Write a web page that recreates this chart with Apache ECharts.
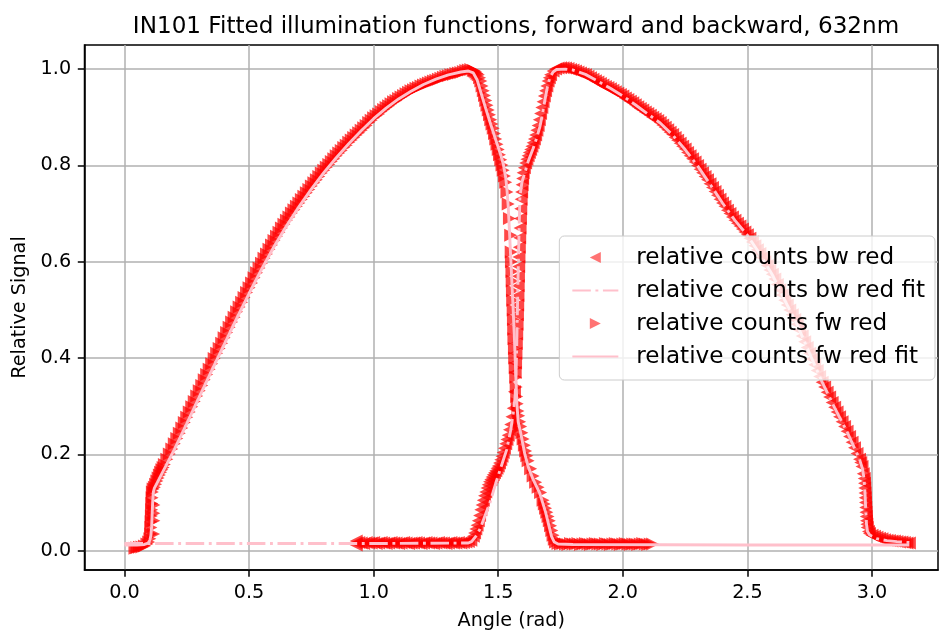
<!DOCTYPE html>
<html>
<head>
<meta charset="utf-8">
<script src="https://cdn.jsdelivr.net/npm/echarts@6/dist/echarts.min.js"></script>
<style>
  html, body { margin: 0; padding: 0; background: #fff; }
  #chart { width: 940px; height: 634px; }
</style>
</head>
<body>
<div id="chart"></div>
<script>
// Backward scan, red channel: [angle (rad), relative signal]
const bwRed = [
  [0.930,0.012],[0.930,0.020],[0.93,0.016],[0.94,0.017],[0.95,0.016],[0.96,0.015],[0.97,0.017],[0.98,0.016],[0.99,0.016],
  [1.00,0.017],[1.01,0.015],[1.02,0.016],[1.03,0.017],[1.04,0.016],[1.05,0.015],[1.06,0.016],[1.07,0.017],[1.08,0.016],[1.09,0.016],
  [1.10,0.015],[1.11,0.016],[1.12,0.017],[1.13,0.016],[1.14,0.015],[1.15,0.016],[1.16,0.016],[1.17,0.017],[1.18,0.016],[1.19,0.015],
  [1.20,0.016],[1.21,0.017],[1.22,0.016],[1.23,0.016],[1.24,0.015],[1.25,0.016],[1.26,0.017],[1.27,0.016],[1.28,0.016],[1.29,0.015],
  [1.30,0.016],[1.31,0.017],[1.32,0.016],[1.33,0.016],[1.34,0.017],[1.35,0.016],[1.36,0.017],[1.37,0.018],[1.38,0.019],[1.39,0.022],
  [1.40,0.030],[1.405,0.037],[1.41,0.045],[1.415,0.053],[1.42,0.062],[1.425,0.073],[1.43,0.085],[1.435,0.095],[1.44,0.105],
  [1.445,0.114],[1.45,0.122],[1.455,0.130],[1.46,0.137],[1.465,0.143],[1.47,0.148],[1.475,0.153],[1.48,0.158],[1.485,0.162],
  [1.49,0.166],[1.495,0.171],[1.50,0.176],[1.505,0.182],[1.51,0.189],[1.515,0.196],[1.52,0.204],[1.525,0.213],[1.53,0.222],
  [1.535,0.231],[1.54,0.240],[1.545,0.251],[1.55,0.262],[1.555,0.278],[1.56,0.296],[1.565,0.330],
  [1.568,0.370],[1.5695,0.390],[1.571,0.410],[1.5725,0.430],[1.574,0.450],[1.5755,0.470],[1.577,0.490],[1.578,0.510],
  [1.579,0.530],[1.580,0.550],[1.581,0.570],[1.582,0.590],[1.583,0.610],[1.5845,0.630],[1.586,0.650],[1.5875,0.670],
  [1.589,0.690],[1.5905,0.710],[1.592,0.730],[1.594,0.745],[1.596,0.760],[1.598,0.773],
  [1.60,0.785],[1.605,0.795],[1.61,0.805],[1.615,0.813],[1.62,0.820],[1.625,0.827],[1.63,0.833],[1.635,0.840],[1.64,0.847],
  [1.645,0.855],[1.65,0.863],[1.655,0.873],[1.66,0.883],[1.665,0.895],[1.67,0.908],[1.675,0.920],[1.68,0.932],[1.685,0.944],
  [1.69,0.955],[1.695,0.965],[1.70,0.975],[1.705,0.982],[1.71,0.988],[1.72,0.996],[1.73,1.000],[1.74,1.002],[1.75,1.003],
  [1.76,1.003],[1.77,1.002],[1.78,1.001],[1.79,0.999],
  [1.80,0.998],[1.81,0.996],[1.82,0.994],[1.83,0.992],[1.84,0.990],[1.85,0.988],[1.86,0.985],[1.87,0.982],[1.88,0.979],[1.89,0.976],
  [1.90,0.973],[1.91,0.970],[1.92,0.967],[1.93,0.964],[1.94,0.962],[1.95,0.959],[1.96,0.956],[1.97,0.953],[1.98,0.950],[1.99,0.947],
  [2.00,0.944],[2.01,0.940],[2.02,0.937],[2.03,0.933],[2.04,0.930],[2.05,0.926],[2.06,0.922],[2.07,0.918],[2.08,0.915],[2.09,0.911],
  [2.10,0.908],[2.11,0.904],[2.12,0.900],[2.13,0.897],[2.14,0.893],[2.15,0.889],[2.16,0.884],[2.17,0.879],[2.18,0.874],[2.19,0.869],
  [2.20,0.864],[2.21,0.858],[2.22,0.852],[2.23,0.846],[2.24,0.840],[2.25,0.834],[2.26,0.827],[2.27,0.820],[2.28,0.814],[2.29,0.807],
  [2.30,0.800],[2.31,0.792],[2.32,0.785],[2.33,0.777],[2.34,0.770],[2.35,0.762],[2.36,0.754],[2.37,0.746],[2.38,0.738],[2.39,0.730],
  [2.40,0.722],[2.41,0.715],[2.42,0.707],[2.43,0.700],[2.44,0.693],[2.45,0.686],[2.46,0.680],[2.47,0.674],[2.48,0.668],[2.49,0.662],
  [2.50,0.656],[2.51,0.649],[2.52,0.641],[2.53,0.633],[2.54,0.625],[2.55,0.617],[2.56,0.609],[2.57,0.600],[2.58,0.592],[2.59,0.583],
  [2.60,0.574],[2.61,0.564],[2.62,0.553],[2.63,0.542],[2.64,0.531],[2.65,0.520],[2.66,0.510],[2.67,0.500],[2.68,0.490],[2.69,0.480],
  [2.70,0.470],[2.71,0.458],[2.72,0.446],[2.73,0.434],[2.74,0.422],[2.75,0.410],[2.76,0.398],[2.77,0.386],[2.78,0.374],[2.79,0.362],
  [2.80,0.350],[2.81,0.340],[2.82,0.329],[2.83,0.319],[2.84,0.308],[2.85,0.298],[2.86,0.288],[2.87,0.278],[2.88,0.268],[2.89,0.258],
  [2.90,0.248],[2.91,0.237],[2.92,0.225],[2.93,0.214],[2.94,0.202],[2.95,0.190],[2.955,0.183],[2.96,0.175],[2.965,0.160],
  [2.969,0.150],[2.970,0.140],[2.971,0.130],[2.972,0.120],[2.973,0.110],[2.974,0.100],[2.975,0.090],[2.976,0.080],[2.977,0.071],
  [2.978,0.062],[2.9795,0.055],[2.981,0.048],[2.986,0.040],[2.99,0.036],
  [3.00,0.032],[3.01,0.030],[3.02,0.028],[3.03,0.026],[3.04,0.025],[3.05,0.023],[3.06,0.022],[3.07,0.021],[3.08,0.020],[3.09,0.020],
  [3.10,0.019],[3.11,0.018],[3.12,0.018],[3.13,0.017],[3.14,0.016],[3.15,0.016]
];

// Fitted illumination function for the backward scan
const bwFit = [
  [0.00,0.015],[0.50,0.015],[1.00,0.015],[1.38,0.016],[1.393,0.019],[1.41,0.030],[1.427,0.045],[1.445,0.070],[1.467,0.100],
  [1.49,0.140],[1.51,0.172],[1.534,0.210],[1.55,0.250],[1.56,0.285],[1.567,0.315],[1.571,0.355],[1.574,0.420],[1.577,0.500],
  [1.58,0.580],[1.583,0.650],[1.587,0.735],[1.595,0.765],[1.607,0.785],[1.62,0.808],[1.64,0.835],[1.655,0.858],[1.667,0.880],
  [1.677,0.905],[1.687,0.935],[1.697,0.962],[1.707,0.982],[1.72,0.994],[1.734,0.999],[1.77,1.000],[1.80,0.998],[1.85,0.989],
  [1.90,0.975],[1.95,0.960],[2.00,0.944],[2.05,0.926],[2.10,0.907],[2.15,0.888],[2.20,0.863],[2.25,0.833],[2.30,0.799],
  [2.35,0.761],[2.40,0.722],[2.45,0.686],[2.50,0.655],[2.55,0.616],[2.60,0.573],[2.65,0.520],[2.70,0.469],[2.75,0.409],
  [2.80,0.350],[2.85,0.297],[2.90,0.247],[2.95,0.190],[2.962,0.170],[2.968,0.150],[2.972,0.120],[2.975,0.085],[2.978,0.055],
  [2.982,0.040],[2.99,0.033],[3.00,0.030],[3.02,0.025],[3.06,0.021],[3.10,0.019],[3.15,0.017]
];

// Forward scan, red channel: [angle (rad), relative signal]
const fwRed = [
  [0.042,0.005],[0.05,0.006],[0.06,0.007],[0.07,0.008],[0.08,0.010],[0.09,0.014],[0.097,0.018],[0.102,0.025],
  [0.105,0.035],[0.106,0.048],[0.107,0.060],[0.108,0.072],[0.109,0.085],[0.110,0.098],[0.111,0.110],[0.112,0.122],
  [0.117,0.035],[0.118,0.062],[0.118,0.078],[0.118,0.095],
  [0.115,0.128],[0.12,0.132],[0.125,0.138],[0.13,0.145],[0.135,0.151],[0.14,0.157],[0.145,0.163],[0.15,0.168],[0.155,0.173],
  [0.16,0.179],[0.17,0.190],[0.18,0.201],[0.19,0.211],
  [0.20,0.222],[0.21,0.233],[0.22,0.244],[0.23,0.255],[0.24,0.266],[0.25,0.277],[0.26,0.288],[0.27,0.299],[0.28,0.310],[0.29,0.321],
  [0.30,0.332],[0.31,0.343],[0.32,0.355],[0.33,0.366],[0.34,0.377],[0.35,0.388],[0.36,0.399],[0.37,0.410],[0.38,0.420],[0.39,0.431],
  [0.40,0.442],[0.41,0.453],[0.42,0.464],[0.43,0.475],[0.44,0.485],[0.45,0.496],[0.46,0.506],[0.47,0.516],[0.48,0.526],[0.49,0.536],
  [0.50,0.546],[0.51,0.556],[0.52,0.567],[0.53,0.577],[0.54,0.587],[0.55,0.597],[0.56,0.607],[0.57,0.616],[0.58,0.626],[0.59,0.635],
  [0.60,0.644],[0.61,0.653],[0.62,0.661],[0.63,0.670],[0.64,0.678],[0.65,0.686],[0.66,0.693],[0.67,0.701],[0.68,0.708],[0.69,0.715],
  [0.70,0.722],[0.71,0.729],[0.72,0.736],[0.73,0.743],[0.74,0.750],[0.75,0.757],[0.76,0.764],[0.77,0.770],[0.78,0.777],[0.79,0.784],
  [0.80,0.790],[0.81,0.796],[0.82,0.802],[0.83,0.808],[0.84,0.814],[0.85,0.820],[0.86,0.826],[0.87,0.831],[0.88,0.837],[0.89,0.842],
  [0.90,0.848],[0.91,0.853],[0.92,0.858],[0.93,0.863],[0.94,0.868],[0.95,0.873],[0.96,0.878],[0.97,0.883],[0.98,0.889],[0.99,0.894],
  [1.00,0.899],[1.01,0.903],[1.02,0.907],[1.03,0.912],[1.04,0.916],[1.05,0.920],[1.06,0.924],[1.07,0.928],[1.08,0.932],[1.09,0.935],
  [1.10,0.939],[1.11,0.942],[1.12,0.945],[1.13,0.949],[1.14,0.952],[1.15,0.955],[1.16,0.957],[1.17,0.960],[1.18,0.962],[1.19,0.965],
  [1.20,0.967],[1.21,0.969],[1.22,0.971],[1.23,0.973],[1.24,0.975],[1.25,0.977],[1.26,0.979],[1.27,0.981],[1.28,0.983],[1.29,0.985],
  [1.30,0.986],[1.31,0.988],[1.32,0.989],[1.33,0.991],[1.34,0.992],[1.35,0.993],[1.36,0.995],[1.37,0.997],[1.38,0.998],[1.39,0.999],
  [1.40,0.997],[1.405,0.996],[1.41,0.994],[1.415,0.991],[1.42,0.988],[1.425,0.982],[1.43,0.975],[1.435,0.965],[1.44,0.955],
  [1.445,0.945],[1.45,0.935],[1.455,0.925],[1.46,0.915],[1.465,0.905],[1.47,0.895],[1.475,0.886],[1.48,0.877],[1.485,0.866],
  [1.49,0.855],[1.495,0.844],[1.50,0.833],[1.505,0.822],[1.51,0.812],[1.515,0.801],[1.52,0.790],[1.525,0.778],[1.53,0.765],
  [1.535,0.745],[1.54,0.720],[1.545,0.690],[1.55,0.655],
  [1.552,0.620],[1.553,0.600],[1.555,0.580],[1.556,0.560],[1.557,0.540],[1.558,0.520],[1.560,0.500],[1.561,0.480],[1.562,0.460],
  [1.563,0.440],[1.565,0.420],[1.566,0.400],[1.568,0.380],[1.570,0.360],[1.572,0.340],[1.574,0.320],[1.576,0.305],[1.579,0.290],
  [1.582,0.280],[1.586,0.268],[1.59,0.258],[1.595,0.245],[1.60,0.232],[1.605,0.219],[1.61,0.207],[1.615,0.197],[1.62,0.187],
  [1.63,0.170],[1.64,0.155],[1.65,0.142],[1.66,0.132],[1.67,0.121],
  [1.68,0.105],[1.685,0.097],[1.69,0.088],[1.695,0.080],[1.70,0.071],[1.705,0.062],[1.71,0.052],[1.715,0.042],[1.72,0.032],
  [1.725,0.024],[1.73,0.018],[1.74,0.015],
  [1.75,0.014],[1.76,0.015],[1.77,0.014],[1.78,0.013],[1.79,0.015],[1.80,0.014],[1.81,0.014],[1.82,0.015],[1.83,0.013],[1.84,0.014],
  [1.85,0.015],[1.86,0.014],[1.87,0.013],[1.88,0.014],[1.89,0.015],[1.90,0.014],[1.91,0.014],[1.92,0.013],[1.93,0.015],[1.94,0.014],
  [1.95,0.013],[1.96,0.014],[1.97,0.015],[1.98,0.014],[1.99,0.013],[2.00,0.014],[2.01,0.015],[2.02,0.014],[2.03,0.013],[2.04,0.014],
  [2.05,0.014],[2.06,0.013],[2.07,0.014],[2.08,0.015],[2.09,0.014],[2.10,0.013],[2.11,0.014],[2.12,0.014]
];

// Fitted illumination function for the forward scan
const fwFit = [
  [0.00,0.012],[0.05,0.012],[0.08,0.013],[0.095,0.016],[0.102,0.022],[0.106,0.032],[0.109,0.050],[0.111,0.075],[0.113,0.100],
  [0.116,0.122],[0.12,0.130],[0.13,0.140],[0.15,0.160],[0.20,0.210],[0.25,0.264],[0.30,0.319],[0.35,0.374],[0.40,0.428],
  [0.45,0.482],[0.50,0.534],[0.55,0.584],[0.60,0.631],[0.65,0.674],[0.70,0.714],[0.75,0.751],[0.80,0.785],[0.85,0.816],
  [0.90,0.845],[0.95,0.872],[1.00,0.897],[1.05,0.919],[1.10,0.938],[1.15,0.954],[1.20,0.968],[1.25,0.979],[1.30,0.988],
  [1.35,0.994],[1.38,0.996],[1.40,0.992],[1.415,0.978],[1.43,0.952],[1.45,0.918],[1.47,0.885],[1.49,0.853],[1.51,0.822],
  [1.52,0.804],[1.53,0.775],[1.535,0.750],[1.54,0.715],[1.545,0.665],[1.55,0.610],[1.555,0.555],[1.56,0.500],[1.565,0.440],
  [1.57,0.370],[1.575,0.305],[1.58,0.268],[1.59,0.245],[1.607,0.200],[1.62,0.175],[1.64,0.148],[1.667,0.119],[1.69,0.080],
  [1.714,0.030],[1.725,0.018],[1.74,0.014],[1.80,0.013],[2.50,0.012],[3.15,0.012]
];

// Axis ticks
const xTicks = [0.0, 0.5, 1.0, 1.5, 2.0, 2.5, 3.0];
const yTicks = [0.0, 0.2, 0.4, 0.6, 0.8, 1.0];

const seriesNames = [
  'relative counts bw red',
  'relative counts bw red fit',
  'relative counts fw red',
  'relative counts fw red fit'
];
const titleText = 'IN101 Fitted illumination functions, forward and backward, 632nm';
const xName = 'Angle (rad)';
const yName = 'Relative Signal';

const FONT = "'DejaVu Sans', sans-serif";
const TRI_LEFT = 'path://M0,5L10,0L10,10Z';
const TRI_RIGHT = 'path://M10,5L0,0L0,10Z';
const PINK = '#ffc0cb';
const MARKER_SIZE = 13;

const chart = echarts.init(document.getElementById('chart'), null, { renderer: 'canvas' });

const axisCommon = {
  type: 'value',
  nameLocation: 'middle',
  nameTextStyle: { fontFamily: FONT, fontSize: 19.2, color: '#000' },
  axisLine: { show: true, onZero: false, lineStyle: { color: '#000', width: 1.5 } },
  axisTick: { show: true, inside: false, length: 6.7, lineStyle: { color: '#000', width: 1.5 } },
  splitLine: { show: true, lineStyle: { color: '#b0b0b0', width: 1.5 } },
  axisLabel: { fontFamily: FONT, fontSize: 19.2, color: '#000', margin: 13.4,
               formatter: v => Number(v).toFixed(1) }
};

chart.setOption({
  animation: false,
  backgroundColor: '#fff',
  title: {
    text: titleText,
    left: 511,
    top: 10,
    textAlign: 'center',
    textStyle: { fontFamily: FONT, fontSize: 23.1, fontWeight: 'normal', color: '#000' }
  },
  grid: {
    left: 84.5, right: 2, top: 45, bottom: 64,
    containLabel: false,
    outerBoundsMode: 'none',
    show: true, borderColor: '#000', borderWidth: 1.5, backgroundColor: '#fff'
  },
  legend: {
    orient: 'vertical',
    right: 5,
    top: 236,
    itemWidth: 46,
    itemHeight: 11,
    itemGap: 10,
    padding: [10, 10, 12, 12],
    backgroundColor: 'rgba(255,255,255,0.8)',
    borderColor: '#cccccc',
    borderWidth: 1,
    borderRadius: 5,
    textStyle: { fontFamily: FONT, fontSize: 23.1, color: '#000', padding: [0, 0, 0, 13] },
    data: [
      { name: seriesNames[0], itemStyle: { opacity: 0.55 } },
      { name: seriesNames[1], itemStyle: { opacity: 0 } },
      { name: seriesNames[2], itemStyle: { opacity: 0.55 } },
      { name: seriesNames[3], itemStyle: { opacity: 0 } }
    ]
  },
  xAxis: Object.assign({}, axisCommon, {
    min: -0.1605, max: 3.265,
    name: xName, nameGap: 42,
    axisTick: Object.assign({}, axisCommon.axisTick, { customValues: xTicks }),
    axisLabel: Object.assign({}, axisCommon.axisLabel, { customValues: xTicks })
  }),
  yAxis: Object.assign({}, axisCommon, {
    min: -0.040, max: 1.050,
    name: yName, nameGap: 47,
    axisTick: Object.assign({}, axisCommon.axisTick, { customValues: yTicks }),
    axisLabel: Object.assign({}, axisCommon.axisLabel, { customValues: yTicks })
  }),
  series: [
    {
      name: seriesNames[0], type: 'scatter', data: bwRed,
      symbol: TRI_LEFT, symbolSize: MARKER_SIZE,
      itemStyle: { color: 'red', opacity: 0.72 }
    },
    {
      name: seriesNames[1], type: 'line', data: bwFit,
      symbol: 'none', showSymbol: false,
      lineStyle: { color: PINK, width: 2.9, type: [18.5, 4.6, 2.9, 4.6], cap: 'butt' },
      itemStyle: { color: PINK }
    },
    {
      name: seriesNames[2], type: 'scatter', data: fwRed,
      symbol: TRI_RIGHT, symbolSize: MARKER_SIZE,
      itemStyle: { color: 'red', opacity: 0.72 }
    },
    {
      name: seriesNames[3], type: 'line', data: fwFit,
      symbol: 'none', showSymbol: false,
      lineStyle: { color: PINK, width: 2.9 },
      itemStyle: { color: PINK }
    }
  ]
});
</script>
</body>
</html>
